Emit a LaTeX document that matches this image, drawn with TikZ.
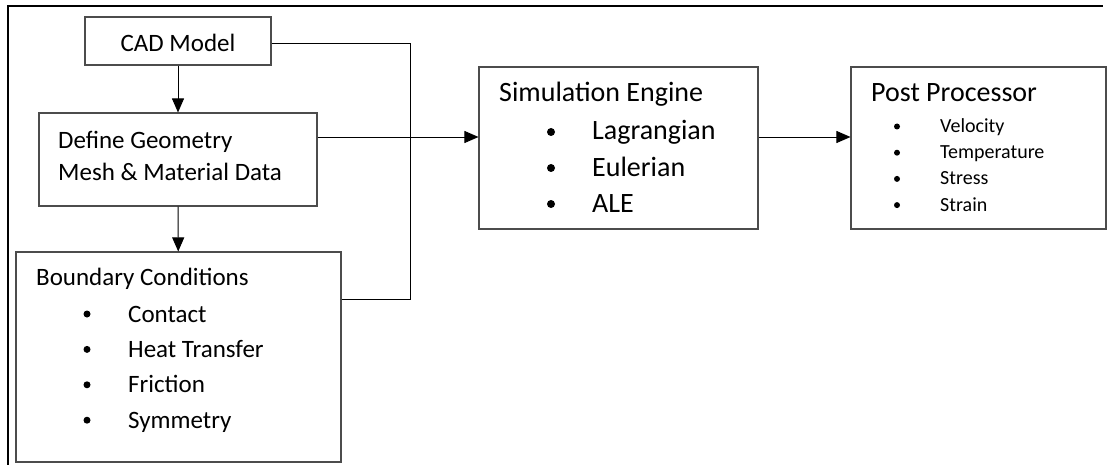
\documentclass[tikz,border=0pt]{standalone}
\usepackage{fontspec}
\setmainfont{Carlito}
\usetikzlibrary{arrows.meta}

\tikzset{
  box/.style={draw=black!70, line width=1.1pt, inner sep=0pt},
  txt/.style={anchor=base west, inner sep=0pt, font=\fontsize{25}{30}\selectfont},
  arr/.style={-{Triangle[length=14pt,width=12pt]}, line width=0.9pt},
}

\begin{document}
\begin{tikzpicture}[x=1pt, y=-1pt]
\useasboundingbox (0,0) rectangle (1107,465) ;
\draw[line width=2pt] (8,466) -- (8,6) -- (1103,6) ;
\node[box, minimum width=186, minimum height=48] (cad) at (178,41) {} ;
\node[box, minimum width=278, minimum height=93] (def) at (178,159.5) {} ;
\node[box, minimum width=325, minimum height=210] (bc) at (178.5,357) {} ;
\node[box, minimum width=279, minimum height=162] (sim) at (618.5,148) {} ;
\node[box, minimum width=255, minimum height=162] (post) at (978.5,148) {} ;
\node[txt, anchor=base] (cadtxt) at (178,52) {CAD Model} ;
\node[txt] (deftxta) at (58,148.5) {Define Geometry} ;
\node[txt] (deftxtb) at (58,180) {Mesh \& Material Data} ;
\node[txt] (bctxt) at (36,285) {Boundary Conditions} ;
\foreach \lbl [count=\i] in {Contact,Heat Transfer,Friction,Symmetry} {
  \fill (87,{314+35.4*(\i-1)}) circle (3.5pt) ;
  \node[txt] (bc\i) at (128,{322+35.4*(\i-1)}) {\lbl} ;
}
\node[txt, font=\fontsize{28}{34}\selectfont] (simtxt) at (499,102) {Simulation Engine} ;
\foreach \lbl [count=\i] in {Lagrangian,Eulerian,ALE} {
  \fill (551,{132+36*(\i-1)}) circle (4pt) ;
  \node[txt, font=\fontsize{28}{34}\selectfont] (sim\i) at (592,{140+36*(\i-1)}) {\lbl} ;
}
\node[txt, font=\fontsize{28}{34}\selectfont] (posttxt) at (871,102) {Post Processor} ;
\foreach \lbl [count=\i] in {Velocity,Temperature,Stress,Strain} {
  \fill (897,{126.5+26.2*(\i-1)}) circle (3pt) ;
  \node[txt, font=\fontsize{20}{24}\selectfont] (post\i) at (940,{132.5+26.2*(\i-1)}) {\lbl} ;
}
\coordinate (join) at (410,299) ;
\draw[arr] (cad) -- (def) ;
\draw[arr] (def) -- (bc) ;
\draw[line width=0.9pt] ([yshift=-2pt]cad.east) -| (join) -- (bc.east |- join) ;
\draw[arr] ([yshift=22.5pt]def.east) -- ([yshift=11pt]sim.west) ;
\draw[arr] ([yshift=11pt]sim.east) -- ([yshift=11pt]post.west) ;
\end{tikzpicture}
\end{document}
